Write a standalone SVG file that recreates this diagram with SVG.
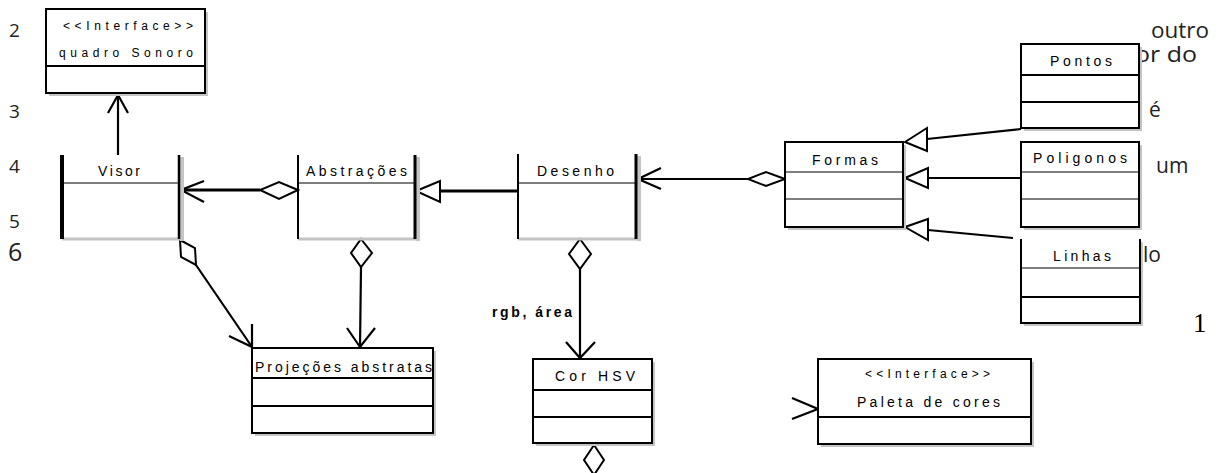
<svg xmlns="http://www.w3.org/2000/svg" width="1219" height="473" viewBox="0 0 1219 473">
<style>
.bg{font-family:"Open Sans","Liberation Sans",sans-serif;font-size:21px;fill:#222}
.num{font-family:"Open Sans","Liberation Sans",sans-serif;font-size:19px;fill:#222}
.t{font-family:"Liberation Sans",Arial,sans-serif;font-size:14px;fill:#000}
.ts{font-family:"Liberation Sans",Arial,sans-serif;font-size:12px;fill:#000}
.box{fill:#fff;stroke:#000;stroke-width:2}
.sh{fill:#c4c4c4}
.dv{stroke:#000;stroke-width:1.2}
.dv2{stroke:#000;stroke-width:2}
.side{stroke:#000;stroke-width:2.5}
.ln{stroke:#000;stroke-width:2.2;fill:none}
.thk{stroke:#000;stroke-width:3;fill:none}
.open{stroke:#000;stroke-width:2.2;fill:none}
.dia{fill:#fff;stroke:#000;stroke-width:2}
.tri{fill:#fff;stroke:#000;stroke-width:2}
.lbl{font-family:"Liberation Sans",Arial,sans-serif;font-size:14px;font-weight:bold;fill:#000}
</style>
<rect width="1219" height="473" fill="#fff"/>
<g id="page-text">
<text class="num" x="9" y="37">2</text>
<text class="num" x="9" y="118">3</text>
<text class="num" x="9" y="173">4</text>
<text class="num" x="9" y="228">5</text>
<text class="num" x="8" y="261" style="font-size:25px">6</text>
<text class="bg" x="1151" y="38" textLength="58" lengthAdjust="spacingAndGlyphs">outro</text>
<text class="bg" x="1135" y="62" textLength="62" lengthAdjust="spacingAndGlyphs">or do</text>
<text class="bg" x="1149" y="117">é</text>
<text class="bg" x="1156" y="173">um</text>
<text class="bg" x="1143" y="262">lo</text>
<text x="1193" y="332" style="font-family:'Liberation Serif',serif;font-size:27px;fill:#000">1</text>
</g>
<g id="connectors">
<!-- Visor -> quadro Sonoro -->
<line class="ln" x1="118" y1="155" x2="118" y2="95"/>
<polyline class="open" points="108,113 118,95 128,113"/>
<!-- Abstracoes -> Visor -->
<line class="thk" x1="260" y1="190" x2="181" y2="190"/>
<polyline class="open" points="204,181 181,190 204,202"/>
<polygon class="dia" points="298,190 279,182 260,190 279,199"/>
<!-- Desenho -> Abstracoes -->
<line class="thk" x1="518" y1="191" x2="440" y2="191"/>
<polygon class="tri" points="416,191 440,181 440,202"/>
<!-- Formas -> Desenho -->
<line class="ln" x1="748" y1="179" x2="638" y2="179"/>
<polyline class="open" points="661,168 638,179 661,189"/>
<polygon class="dia" points="785,179 766,172 748,179 766,186"/>
<!-- Pontos -> Formas -->
<line class="ln" x1="1021" y1="129" x2="927" y2="139"/>
<polygon class="tri" points="905,142 927,128 927,151"/>
<!-- Poligonos -> Formas -->
<line class="ln" x1="1021" y1="178" x2="928" y2="178"/>
<polygon class="tri" points="905,178 928,168 928,188"/>
<!-- Linhas -> Formas -->
<line class="ln" x1="1013" y1="238" x2="928" y2="230"/>
<polygon class="tri" points="905,227 928,219 928,240"/>
<!-- Visor -> Projecoes -->
<line class="ln" x1="196" y1="265" x2="252" y2="347"/>
<polyline class="open" points="229,336 252,347 252,324"/>
<polygon class="dia" points="180,240 195,248 196,265 181,257"/>
<!-- Abstracoes -> Projecoes -->
<line class="ln" x1="361" y1="267" x2="360" y2="347"/>
<polyline class="open" points="347,328 360,347 375,328"/>
<polygon class="dia" points="361,239 372,253 361,267 351,253"/>
<!-- Desenho -> Cor HSV -->
<line class="ln" x1="580" y1="269" x2="580" y2="358"/>
<polyline class="open" points="566,342 580,358 595,342"/>
<polygon class="dia" points="580,239 591,254 580,269 569,254"/>
<text class="lbl" x="492" y="317" textLength="80" lengthAdjust="spacing">rgb, área</text>
<!-- Cor HSV bottom diamond -->
<polygon class="dia" points="594,445 604,460 594,475 584,460"/>
<!-- Paleta left arrowhead -->
<polyline class="open" points="792,398 818,409 792,419"/>
</g>
<g id="quadroSonoro">
<rect class="sh" x="49" y="12" width="159" height="84"/>
<rect class="box" x="46" y="9" width="159" height="84"/>
<line class="dv2" x1="46" y1="66" x2="205" y2="66"/>
<text class="ts" x="63" y="30" textLength="130" lengthAdjust="spacing">&lt;&lt;Interface&gt;&gt;</text>
<text class="ts" x="59" y="57" textLength="134" lengthAdjust="spacing">quadro Sonoro</text>
</g>
<g id="visor">
<rect class="sh" x="180" y="157" width="4" height="84"/>
<line x1="62" y1="239" x2="184" y2="239" stroke="#c4c4c4" stroke-width="3"/>
<line x1="62" y1="155" x2="62" y2="239" stroke="#000" stroke-width="4"/>
<line class="side" x1="179" y1="155" x2="179" y2="239"/>
<line class="dv" x1="62" y1="183" x2="179" y2="183"/>
<text class="t" x="98" y="176" textLength="42" lengthAdjust="spacing">Visor</text>
</g>
<g id="abstracoes">
<rect class="sh" x="416" y="157" width="4" height="84"/>
<line x1="298" y1="239" x2="420" y2="239" stroke="#c4c4c4" stroke-width="3"/>
<line x1="298" y1="155" x2="298" y2="239" stroke="#000" stroke-width="2"/>
<line x1="415" y1="155" x2="415" y2="239" stroke="#000" stroke-width="3"/>
<line class="dv" x1="298" y1="183" x2="415" y2="183"/>
<text class="t" x="306" y="176" textLength="101" lengthAdjust="spacing">Abstrações</text>
</g>
<g id="desenho">
<rect class="sh" x="637" y="156" width="4" height="85"/>
<line x1="518" y1="239" x2="641" y2="239" stroke="#c4c4c4" stroke-width="3"/>
<line x1="518" y1="154" x2="518" y2="239" stroke="#000" stroke-width="2"/>
<line x1="636" y1="154" x2="636" y2="239" stroke="#000" stroke-width="3"/>
<line class="dv" x1="518" y1="183" x2="636" y2="183"/>
<text class="t" x="537" y="176" textLength="77" lengthAdjust="spacing">Desenho</text>
</g>
<g id="formas">
<rect class="sh" x="788" y="145" width="118" height="85"/>
<rect class="box" x="785" y="142" width="118" height="85"/>
<line class="dv" x1="785" y1="172" x2="903" y2="172"/>
<line class="dv" x1="785" y1="199" x2="903" y2="199"/>
<text class="t" x="812" y="165" textLength="66" lengthAdjust="spacing">Formas</text>
</g>
<g id="pontos">
<rect class="sh" x="1024" y="47" width="118" height="84"/>
<rect class="box" x="1021" y="44" width="118" height="84"/>
<line class="dv2" x1="1021" y1="75" x2="1139" y2="75"/>
<line class="dv2" x1="1021" y1="102" x2="1139" y2="102"/>
<text class="t" x="1050" y="66" textLength="62" lengthAdjust="spacing">Pontos</text>
</g>
<g id="poligonos">
<rect class="sh" x="1024" y="145" width="118" height="85"/>
<rect class="box" x="1021" y="142" width="118" height="85"/>
<line class="dv" x1="1021" y1="172" x2="1139" y2="172"/>
<line class="dv" x1="1021" y1="199" x2="1139" y2="199"/>
<text class="t" x="1033" y="163" textLength="94" lengthAdjust="spacing">Poligonos</text>
</g>
<g id="linhas">
<rect class="sh" x="1024" y="242" width="119" height="84"/>
<rect x="1021" y="239" width="119" height="84" fill="#fff"/>
<polyline points="1021,239 1021,323 1140,323 1140,239" fill="none" stroke="#000" stroke-width="2"/>
<line class="dv" x1="1021" y1="268" x2="1140" y2="268"/>
<line class="dv2" x1="1021" y1="297" x2="1140" y2="297"/>
<text class="t" x="1053" y="261" textLength="58" lengthAdjust="spacing">Linhas</text>
</g>
<g id="projecoes">
<rect class="sh" x="255" y="351" width="181" height="85"/>
<rect class="box" x="252" y="348" width="181" height="85"/>
<line class="dv2" x1="252" y1="378" x2="433" y2="378"/>
<line class="dv2" x1="252" y1="406" x2="433" y2="406"/>
<text class="t" x="255" y="372" textLength="177" lengthAdjust="spacing">Projeções abstratas</text>
</g>
<g id="corHSV">
<rect class="sh" x="536" y="362" width="119" height="84"/>
<rect class="box" x="533" y="359" width="119" height="84"/>
<line class="dv2" x1="533" y1="390" x2="652" y2="390"/>
<line class="dv2" x1="533" y1="417" x2="652" y2="417"/>
<text class="t" x="555" y="381" textLength="80" lengthAdjust="spacing">Cor HSV</text>
</g>
<g id="paleta">
<rect class="sh" x="821" y="362" width="213" height="85"/>
<rect class="box" x="818" y="359" width="213" height="85"/>
<line class="dv2" x1="818" y1="417" x2="1031" y2="417"/>
<text class="ts" x="865" y="378" textLength="125" lengthAdjust="spacing">&lt;&lt;Interface&gt;&gt;</text>
<text class="t" x="857" y="407" textLength="143" lengthAdjust="spacing">Paleta de cores</text>
</g>
</svg>
